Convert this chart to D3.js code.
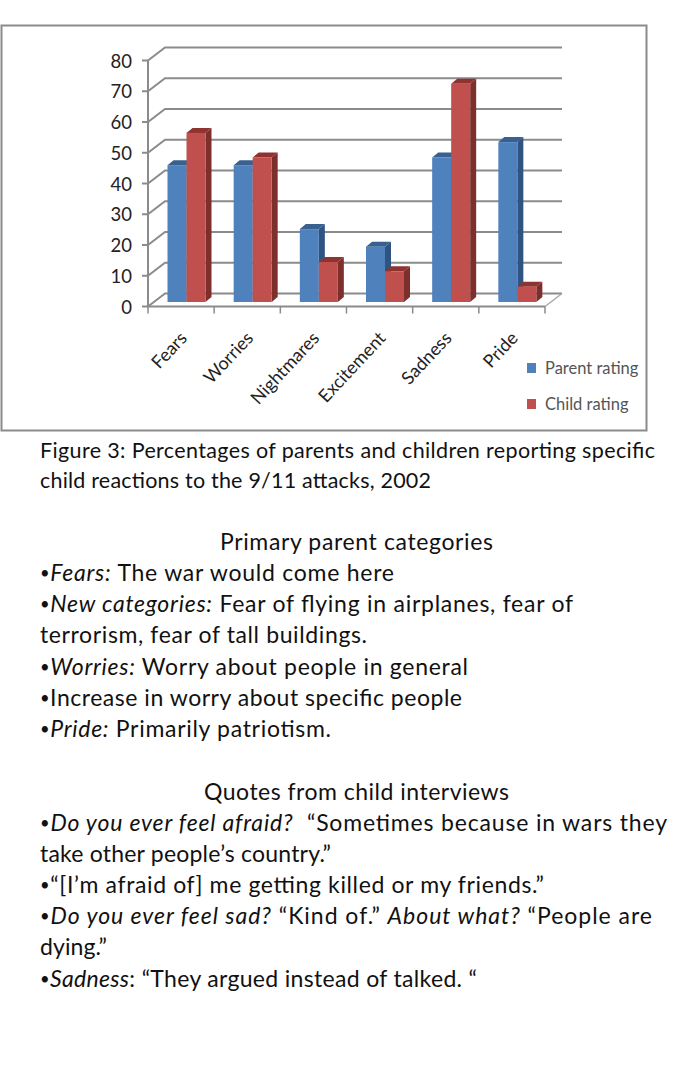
<!DOCTYPE html>
<html><head><meta charset="utf-8">
<script src="https://cdn.jsdelivr.net/npm/d3@7"></script>
<style>html,body{margin:0;background:#fff}svg{display:block}text{font-family:Lato,sans-serif}</style>
</head><body><svg id="c" width="684" height="1080"></svg>
<script>
const categories=["Fears","Worries","Nightmares","Excitement","Sadness","Pride"];
const parentRating=[44.5,44.5,23.7,18,47,52];
const childRating=[55,47,13,10,71,5];
const yTicks=[0,10,20,30,40,50,60,70,80];
const seriesNames=["Parent rating","Child rating"];
const captionLines=[
 [["Figure 3: Percentages of parents and children reporting specific",0]],
 [["child reactions to the 9/11 attacks, 2002",0]]];
const body1Heading="Primary parent categories";
const body1=[
 [["•",2],["Fears:",1],[" The war would come here",0]],
 [["•",2],["New categories:",1],[" Fear of flying in airplanes, fear of",0]],
 [["terrorism, fear of tall buildings.",0]],
 [["•",2],["Worries:",1],[" Worry about people in general",0]],
 [["•",2],["Increase in worry about specific people",0]],
 [["•",2],["Pride:",1],[" Primarily patriotism.",0]]];
const body2Heading="Quotes from child interviews";
const body2=[
 [["•",2],["Do you ever feel afraid?",1],["  “Sometimes because in wars they",0]],
 [["take other people’s country.”",0]],
 [["•",2],["“[I’m afraid of] me getting killed or my friends.”",0]],
 [["•",2],["Do you ever feel sad?",1],[" “Kind of.” ",0],["About what?",1],[" “People are",0]],
 [["dying.”",0]],
 [["•",2],["Sadness",1],[": “They argued instead of talked. “",0]]];

const svg=d3.select("#c");
const grey="#8b8b8b";
const depth={x:17,y:-13}, barD={x:6,y:-5}, barLift=4.5;
const x=d3.scaleBand().domain(categories).range([148,545]);
const y=d3.scaleLinear().domain([0,80]).range([306.5,60.5]);
const inner=d3.scaleBand().domain([0,1]).range([19.5,57.5]);

svg.append("rect").attr("x",1.5).attr("y",25.5).attr("width",645).attr("height",405)
  .attr("fill","#fff").attr("stroke",grey).attr("stroke-width",2);

svg.selectAll(".g").data(yTicks).join("path").attr("fill","none").attr("stroke",grey).attr("stroke-width",2)
  .attr("d",d=>`M${x.range()[0]},${y(d)}L${x.range()[0]+depth.x},${y(d)+depth.y}H${x.range()[1]+depth.x}`);
svg.append("path").attr("fill","none").attr("stroke","#a8a8a8").attr("stroke-width",1.5)
  .attr("d",`M${x.range()[1]},${y(0)}L${x.range()[1]+depth.x},${y(0)+depth.y}`);
svg.append("path").attr("fill","none").attr("stroke",grey).attr("stroke-width",2)
  .attr("d",`M${x.range()[0]},${y(80)}V${y(0)}H${x.range()[1]}`);
svg.selectAll(".yt").data(yTicks).join("line").attr("stroke",grey).attr("stroke-width",2)
  .attr("x1",142).attr("x2",148).attr("y1",d=>y(d)).attr("y2",d=>y(d));
svg.selectAll(".xt").data(d3.range(7)).join("line").attr("stroke",grey).attr("stroke-width",1.5)
  .attr("x1",d=>148+d*x.step()).attr("x2",d=>148+d*x.step()).attr("y1",y(0)).attr("y2",y(0)+7);
svg.selectAll(".yl").data(yTicks).join("text").attr("x",132).attr("y",d=>y(d)+7)
  .attr("text-anchor","end").attr("font-size",18.5).attr("fill","#222").text(d=>d);

const fills=[{f:"#4f81bd",top:"#38618f",side:"#2f5482"},{f:"#c0504d",top:"#8f3330",side:"#7d2f2c"}];
const rows=categories.map((c,i)=>[[c,0,parentRating[i]],[c,1,childRating[i]]]).flat();
const gs=svg.selectAll(".b").data(rows).join("g");
gs.each(function([c,s,v]){
  const g=d3.select(this),l=x(c)+inner(s),w=inner.bandwidth(),b=y(0)-barLift,t=y(v)-barLift,col=fills[s];
  g.append("path").attr("fill",col.side).attr("d",`M${l+w},${t}l${barD.x},${barD.y}V${b+barD.y}l${-barD.x},${-barD.y}Z`);
  g.append("path").attr("fill",col.top).attr("d",`M${l},${t}l${barD.x},${barD.y}H${l+w+barD.x}l${-barD.x},${-barD.y}Z`);
  g.append("rect").attr("x",l).attr("y",t).attr("width",w).attr("height",b-t).attr("fill",col.f);
});

svg.selectAll(".cl").data(categories).join("text")
  .attr("text-anchor","end").attr("font-size",18).attr("fill","#222")
  .attr("transform",c=>`translate(${x(c)+x.step()/2+7},${339}) rotate(-47)`).text(c=>c);

seriesNames.forEach((n,i)=>{
  const yy=[368,404][i];
  svg.append("rect").attr("x",527).attr("y",yy-5).attr("width",9).attr("height",10).attr("fill",fills[i].f);
  svg.append("text").attr("x",545).attr("y",yy+6).attr("font-size",16.5).attr("fill","#555").text(n);
});

function addLine(parts,yy,xx,xEnd,size){
  const t=svg.append("text").attr("x",xx).attr("y",yy).attr("font-size",size).attr("fill","#111")
    .attr("textLength",xEnd-xx).attr("lengthAdjust","spacing").attr("xml:space","preserve").style("white-space","pre");
  let shifted=false;
  parts.forEach(([s,kind])=>{
    const sp=t.append("tspan").text(s);
    if(kind===2){sp.attr("font-size",size*0.72).attr("dy",-2);shifted=true;}
    else{sp.attr("font-style",kind===1?"italic":"normal");if(shifted){sp.attr("dy",2);shifted=false;}}
  });
}
[458,488].forEach((yy,i)=>addLine(captionLines[i],yy,40,[655,431][i],21.5));
addLine([[body1Heading,0]],550,220,493,23);
[581,612,643,675,706,737].forEach((yy,i)=>addLine(body1[i],yy,40,[394,573,367,468,462,331][i],23));
addLine([[body2Heading,0]],800,204,509,23);
[831,862,893,924,955,987].forEach((yy,i)=>addLine(body2[i],yy,40,[667,331,544,652,107,477][i],23));
</script></body></html>
